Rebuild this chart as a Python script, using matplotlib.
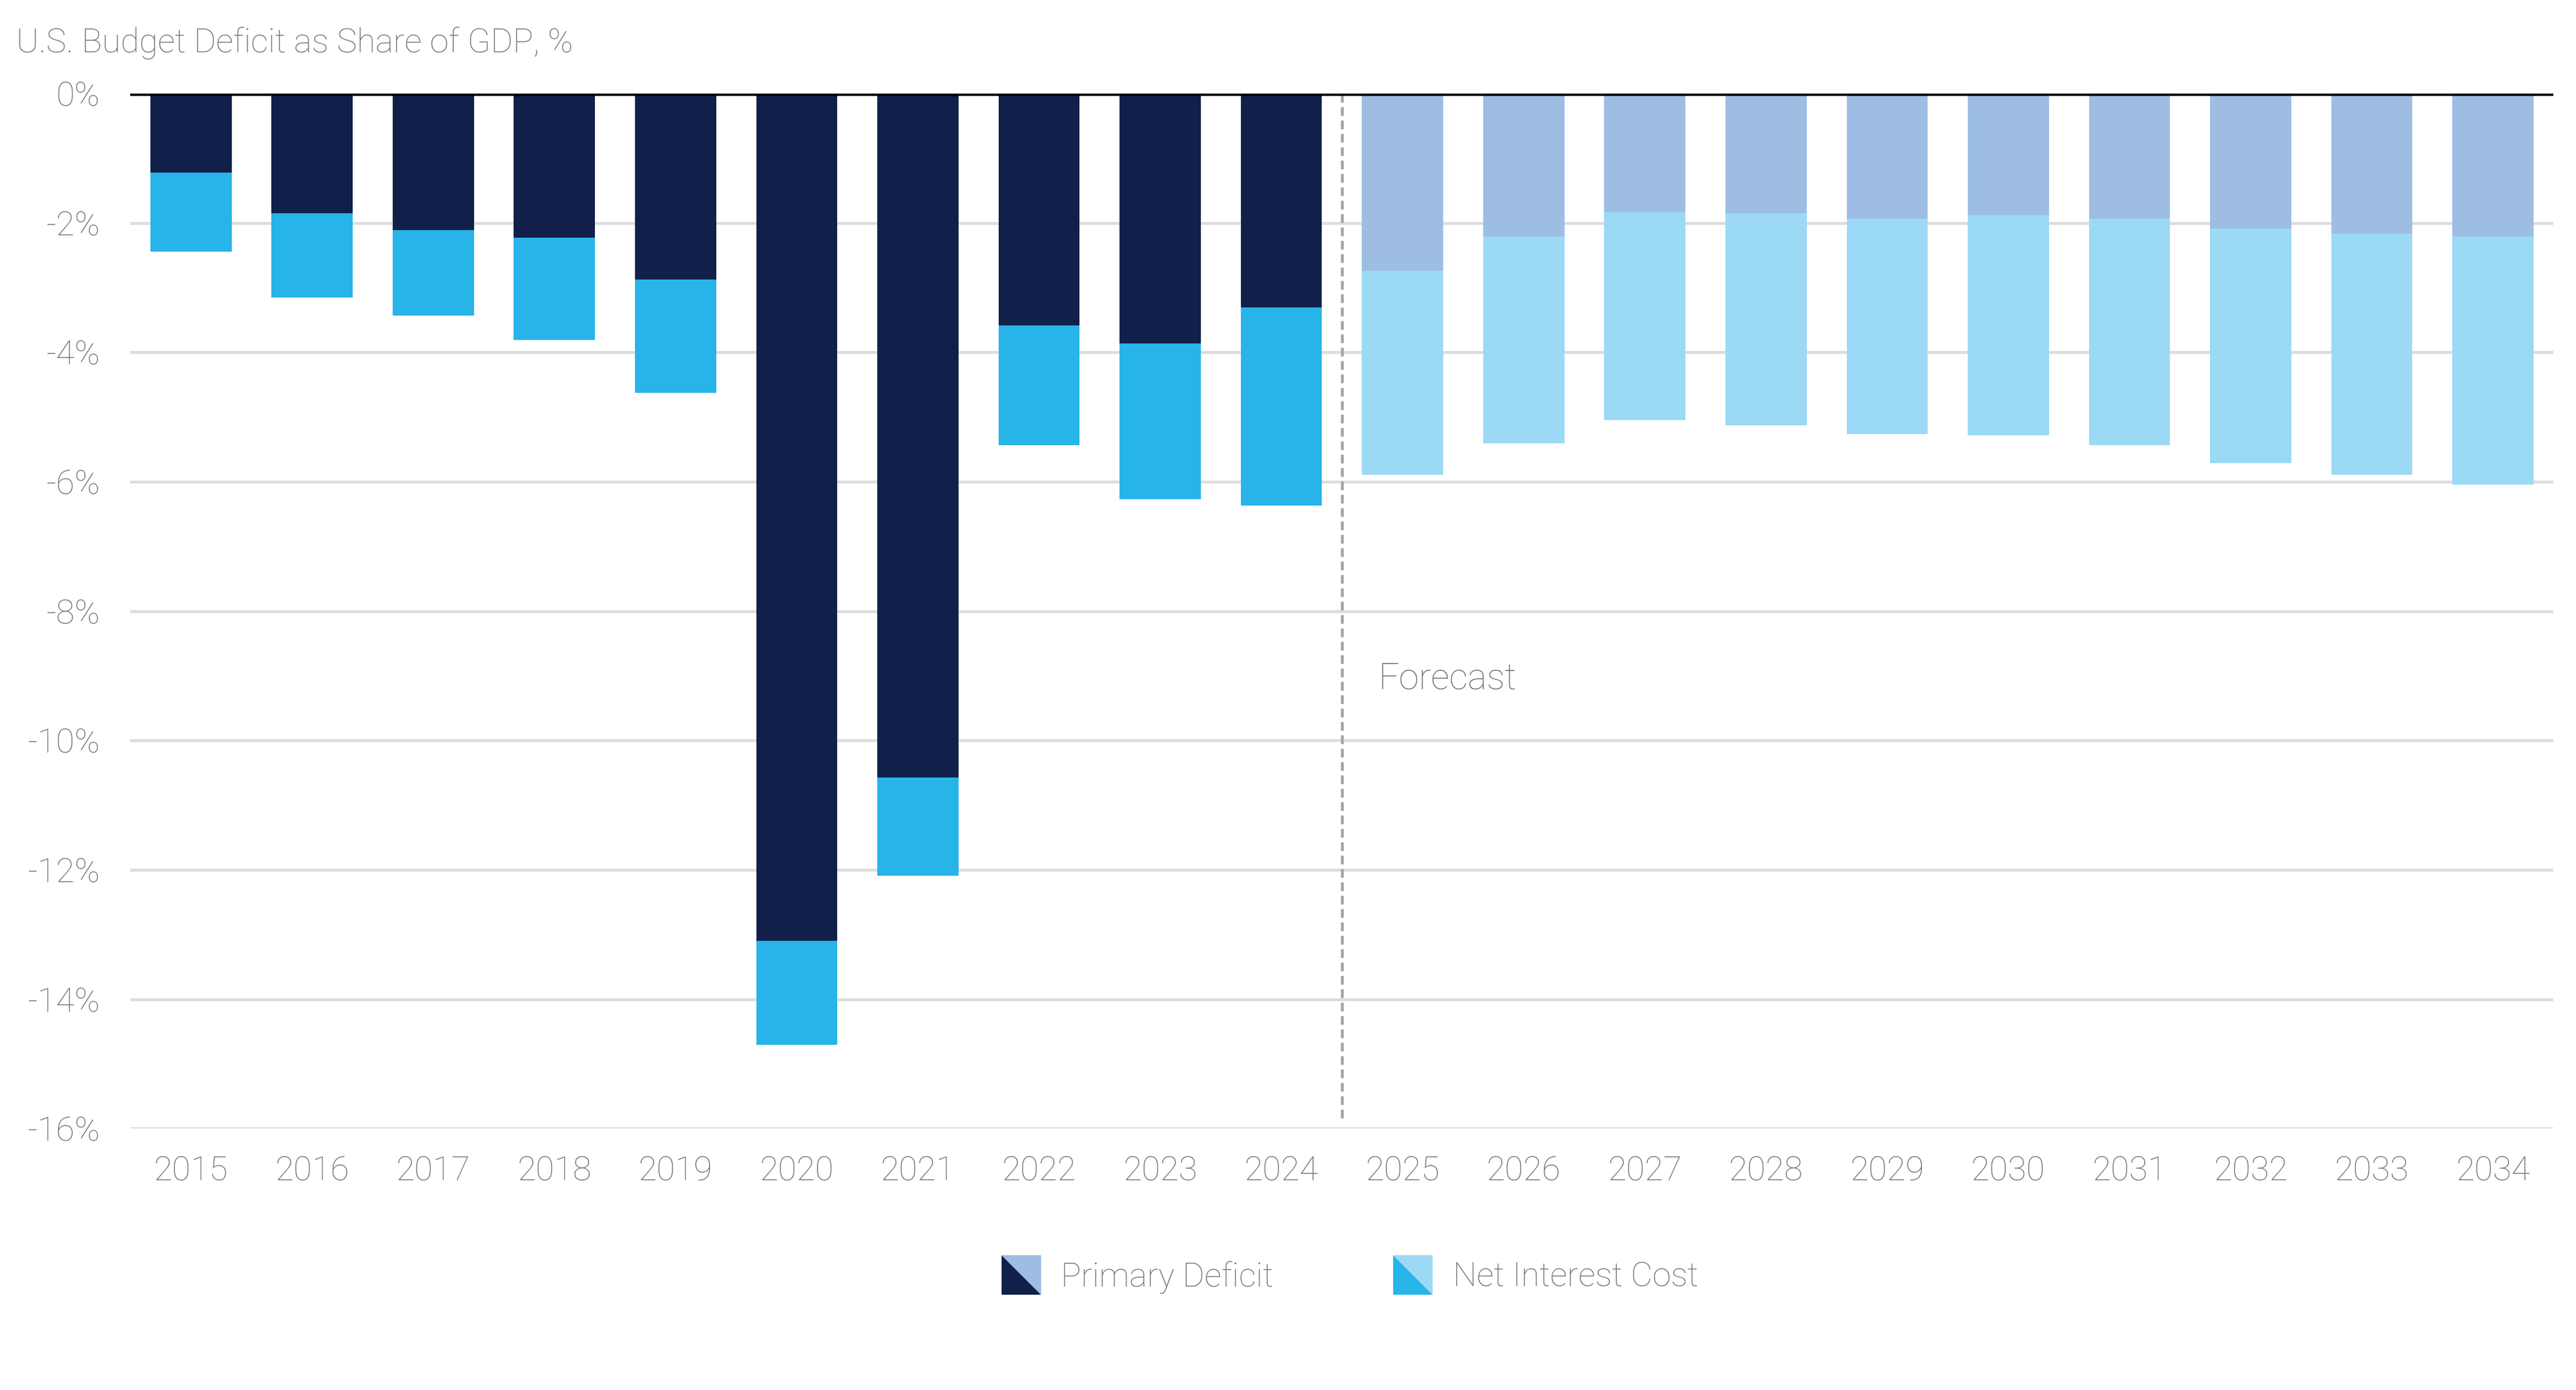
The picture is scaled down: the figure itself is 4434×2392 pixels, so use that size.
import matplotlib.pyplot as plt
import matplotlib.patches as mpatches
from matplotlib.legend_handler import HandlerBase
import numpy as np

plt.rcParams['font.family'] = ['Roboto', 'DejaVu Sans']

years = [str(y) for y in range(2015, 2035)]
primary = [-1.22, -1.85, -2.11, -2.23, -2.87, -13.10, -10.57, -3.58, -3.86, -3.30,
           -2.74, -2.21, -1.83, -1.85, -1.93, -1.88, -1.93, -2.08, -2.16, -2.21]
total = [-2.44, -3.15, -3.43, -3.81, -4.62, -14.70, -12.09, -5.43, -6.27, -6.37,
         -5.89, -5.41, -5.05, -5.13, -5.26, -5.28, -5.43, -5.71, -5.89, -6.04]
interest = [t - p for t, p in zip(total, primary)]
n_actual = 10

navy = '#10204a'
cyan = '#27b4e8'
light_navy = '#9dbde3'
light_cyan = '#9bd9f5'
grey = '#747478'

fig = plt.figure(figsize=(4434 / 300, 2392 / 300), dpi=300)
ax = fig.add_axes([0.0506, 0.188, 0.9407, 0.7446])

x = np.arange(len(years))
c1 = [navy] * n_actual + [light_navy] * (len(years) - n_actual)
c2 = [cyan] * n_actual + [light_cyan] * (len(years) - n_actual)
ax.bar(x, primary, width=0.67, color=c1, zorder=3)
ax.bar(x, interest, bottom=primary, width=0.67, color=c2, zorder=3)

ax.set_xlim(-0.5, len(years) - 0.5)
ax.set_ylim(-16, 0)
ax.set_yticks(range(-16, 1, 2))
ax.set_yticklabels([f'{v}%' for v in range(-16, 1, 2)])
ax.set_xticks(x)
ax.set_xticklabels(years)
ax.tick_params(length=0, labelsize=14, labelcolor=grey)
ax.tick_params(axis='x', pad=11)
ax.tick_params(axis='y', pad=12.5)
for lab in ax.get_xticklabels() + ax.get_yticklabels():
    lab.set_fontweight('light')
for s in ax.spines.values():
    s.set_visible(False)
ax.grid(axis='y', color='#dddddd', lw=1.2, zorder=0)
ax.axhline(0, color='black', lw=2, zorder=4)

ax.plot([9.5, 9.5], [0, -15.9], ls=(0, (3, 1.6)), color='#aaa6a6', lw=1.2, zorder=2)
ax.text(9.8, -9.2, 'Forecast', fontsize=15, color=grey, fontweight='light', va='baseline')

fig.text(0.0064, 0.969, 'U.S. Budget Deficit as Share of GDP, %', fontsize=14,
         color=grey, fontweight='light', va='center')


class SplitHandler(HandlerBase):
    def __init__(self, dark, light):
        super().__init__()
        self.dark = dark
        self.light = light

    def create_artists(self, legend, orig_handle, xdescent, ydescent, width, height, fontsize, trans):
        x0 = -xdescent
        w = width
        h = width
        y0 = -ydescent + height / 2 - h / 2
        lower = mpatches.Polygon([[x0, y0 + h], [x0, y0], [x0 + w, y0]], closed=True,
                                 facecolor=self.dark, edgecolor='none', transform=trans)
        upper = mpatches.Polygon([[x0, y0 + h], [x0 + w, y0 + h], [x0 + w, y0]], closed=True,
                                 facecolor=self.light, edgecolor='none', transform=trans)
        return [lower, upper]


h1 = mpatches.Patch(label='Primary Deficit')
h2 = mpatches.Patch(label='Net Interest Cost')
leg = fig.legend(handles=[h1, h2], loc='center', bbox_to_anchor=(0.524, 0.081), ncol=2,
                 frameon=False, fontsize=13.9, handlelength=1.17, handletextpad=0.6,
                 columnspacing=3.55,
                 handler_map={h1: SplitHandler(navy, light_navy), h2: SplitHandler(cyan, light_cyan)})
for t in leg.get_texts():
    t.set_color(grey)
    t.set_fontweight('light')

fig.savefig('out.png', dpi=300)
